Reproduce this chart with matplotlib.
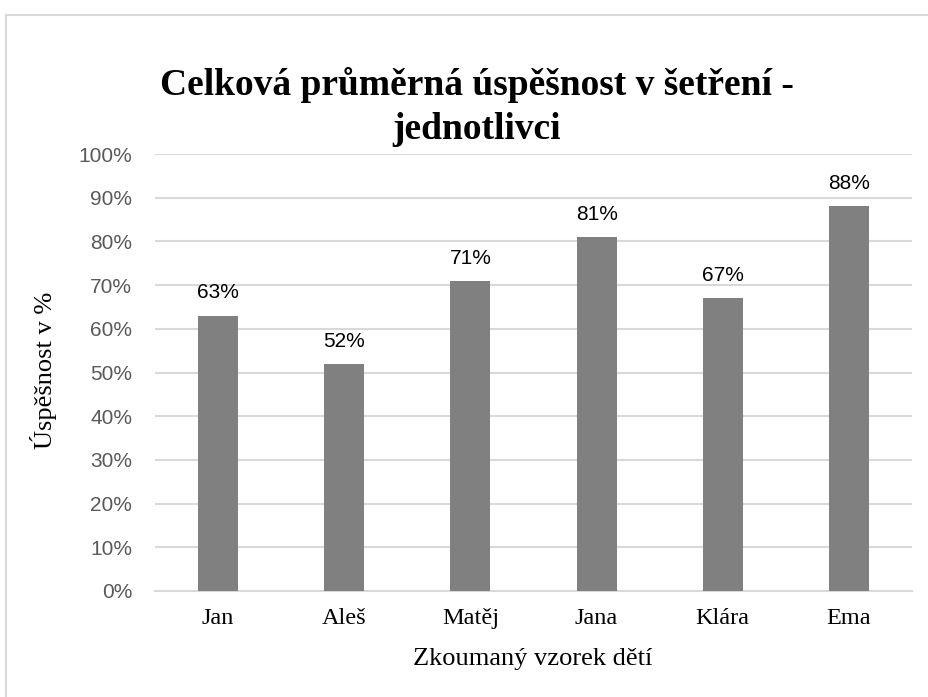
import matplotlib
matplotlib.use("Agg")
import matplotlib.pyplot as plt
from matplotlib.lines import Line2D
from matplotlib.ticker import FuncFormatter, MultipleLocator

names = ["Jan", "Aleš", "Matěj", "Jana", "Klára", "Ema"]
success_pct = [63, 52, 71, 81, 67, 88]

title_text = "Celková průměrná úspěšnost v šetření -\njednotlivci"
x_label = "Zkoumaný vzorek dětí"
y_label = "Úspěšnost v %"

W, H = 929, 697
fig = plt.figure(figsize=(W / 100, H / 100), dpi=100)
fig.patch.set_facecolor("white")

# chart frame (top and left edges visible)
fig.add_artist(Line2D([6 / W, 1], [1 - 15 / H, 1 - 15 / H], color="#d9d9d9", lw=1.5,
                      transform=fig.transFigure))
fig.add_artist(Line2D([6 / W, 6 / W], [0, 1 - 15 / H], color="#d9d9d9", lw=1.5,
                      transform=fig.transFigure))

left, right, top, bottom = 155, 912, 154, 591
ax = fig.add_axes([left / W, 1 - bottom / H, (right - left) / W, (bottom - top) / H])

x = range(len(names))
ax.bar(x, success_pct, width=0.317, color="#808080", zorder=3)
ax.set_xlim(-0.5, len(names) - 0.5)
ax.set_ylim(0, 100)

ax.yaxis.set_major_locator(MultipleLocator(10))
ax.yaxis.set_major_formatter(FuncFormatter(lambda v, _: f"{v:.0f}%"))
ax.grid(axis="y", color="#d9d9d9", lw=1.5, zorder=0)
ax.set_axisbelow(True)
for s in ["top", "right", "left"]:
    ax.spines[s].set_visible(False)
ax.spines["bottom"].set_color("#d9d9d9")
ax.spines["bottom"].set_linewidth(1.5)
ax.tick_params(axis="both", length=0)
ax.tick_params(axis="y", pad=16.5, labelsize=15, labelcolor="#595959")
for lab in ax.get_yticklabels():
    lab.set_family("Liberation Sans")

ax.set_xticks(list(x))
ax.set_xticklabels(names, family="Liberation Serif", fontsize=17.5, color="black")
ax.tick_params(axis="x", pad=12)

for xi, v in zip(x, success_pct):
    ax.annotate(f"{v}%", (xi, v), xytext=(0, 9.5), textcoords="offset points",
                ha="center", va="bottom", fontsize=15, color="#000000",
                family="Liberation Sans")

fig.text(533 / W, 1 - 659 / H, x_label, ha="center", va="center",
         family="Liberation Serif", fontsize=19)
fig.text(44 / W, 1 - 370 / H, y_label, ha="center", va="center", rotation=90,
         family="Liberation Serif", fontsize=19)
fig.text(477 / W, 1 - 107 / H, title_text, ha="center", va="center",
         family="Liberation Serif", fontweight="bold", fontsize=27, linespacing=1.36)

fig.savefig("out.png", dpi=100, facecolor="white")
